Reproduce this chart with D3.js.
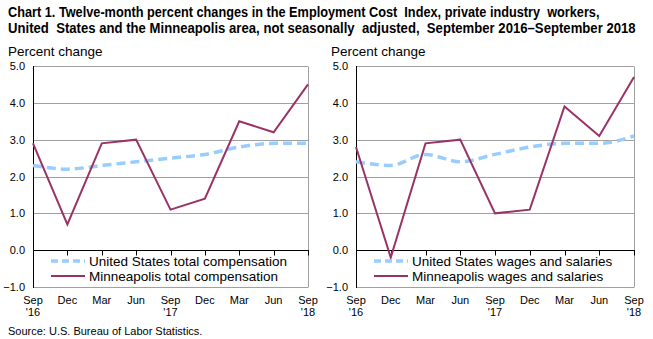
<!DOCTYPE html>
<html>
<head>
<meta charset="utf-8">
<script src="https://cdn.jsdelivr.net/npm/d3@7"></script>
<style>
  body { margin: 0; background: #fff; }
  svg { display: block; font-family: "Liberation Sans", Arial, sans-serif; }
</style>
</head>
<body>
<div id="chart"></div>
<script>
// quarters, Sep 2016 through Sep 2018
const quarters = ["Sep '16", "Dec", "Mar", "Jun", "Sep '17", "Dec", "Mar", "Jun", "Sep '18"];
const yTicks = [-1, 0, 1, 2, 3, 4, 5];

const usTotalComp = [2.3, 2.2, 2.3, 2.4, 2.5, 2.6, 2.8, 2.9, 2.9];
const mplsTotalComp = [2.9, 0.7, 2.9, 3.0, 1.1, 1.4, 3.5, 3.2, 4.5];
const usWages = [2.4, 2.3, 2.6, 2.4, 2.6, 2.8, 2.9, 2.9, 3.1];
const mplsWages = [2.8, -0.2, 2.9, 3.0, 1.0, 1.1, 3.9, 3.1, 4.7];

const titleLines = ["Chart 1. Twelve-month percent changes in the Employment Cost  Index, private industry  workers,",
	"United  States and the Minneapolis area, not seasonally  adjusted,  September 2016\u2013September 2018"];

const width = 653, height = 339;

let svg = d3.select("#chart")
	.append("svg")
		.attr("width", width)
		.attr("height", height);

// title, two lines, squeezed horizontally to a narrow look
const titleWidths = [592, 628];
titleLines.forEach(function(line, i)
{
	let t = svg.append("text")
		.attr("x", 0)
		.attr("y", 0)
		.style("font-weight", "bold")
		.style("font-size", "15.5px")
		.style("white-space", "pre")
		.text(line);
	let w = t.node().getComputedTextLength();
	t.attr("transform", "translate(8," + (16.5 + i * 16) + ") scale(" + (titleWidths[i] / w) + ",1)");
});

svg.append("text")
	.attr("x", 8)
	.attr("y", 335)
	.style("font-size", "11px")
	.text("Source: U.S. Bureau of Labor Statistics.");

function drawPanel(opts)
{
	let g = svg.append("g");

	let x = d3.scalePoint()
		.domain(d3.range(quarters.length))
		.range([opts.left, opts.right]);

	let y = d3.scaleLinear()
		.domain([-1, 5])
		.range([287, 66]);

	g.append("text")
		.attr("x", opts.left - 25)
		.attr("y", 56)
		.style("font-size", "13.5px")
		.text("Percent change");

	// gridlines
	g.selectAll(".grid")
		.data(yTicks.filter(v => v != 0))
		.enter()
		.append("line")
		.attr("x1", opts.left)
		.attr("x2", opts.right)
		.attr("y1", d => Math.round(y(d)) + 0.5)
		.attr("y2", d => Math.round(y(d)) + 0.5)
		.attr("stroke", "#a0a0a0")
		.attr("stroke-width", 1);

	g.append("line")
		.attr("x1", opts.right + 0.5)
		.attr("x2", opts.right + 0.5)
		.attr("y1", Math.round(y(5)) + 0.5)
		.attr("y2", Math.round(y(-1)) + 0.5)
		.attr("stroke", "#a0a0a0");

	// y axis labels
	g.selectAll(".ylab")
		.data(yTicks)
		.enter()
		.append("text")
		.attr("x", opts.left - 8)
		.attr("y", d => y(d) + 4)
		.attr("text-anchor", "end")
		.style("font-size", "11px")
		.text(d => d3.format(".1f")(d));

	// left axis and zero line
	g.append("line")
		.attr("x1", opts.left + 0.5)
		.attr("x2", opts.left + 0.5)
		.attr("y1", Math.round(y(5)))
		.attr("y2", Math.round(y(-1)) + 1)
		.attr("stroke", "#000");

	let zero = Math.round(y(0)) + 0.5;
	g.append("line")
		.attr("x1", opts.left)
		.attr("x2", opts.right + 1)
		.attr("y1", zero)
		.attr("y2", zero)
		.attr("stroke", "#000");

	g.selectAll(".tick")
		.data(d3.range(quarters.length))
		.enter()
		.append("line")
		.attr("x1", d => Math.round(x(d)) + 0.5)
		.attr("x2", d => Math.round(x(d)) + 0.5)
		.attr("y1", zero)
		.attr("y2", zero + 5)
		.attr("stroke", "#000");

	// x labels, year on a second line
	let xl = g.selectAll(".xlab")
		.data(quarters)
		.enter()
		.append("text")
		.attr("text-anchor", "middle")
		.style("font-size", "11px");

	xl.append("tspan")
		.attr("x", (d, i) => x(i))
		.attr("y", 304)
		.text(d => d.split(" ")[0]);

	xl.append("tspan")
		.attr("x", (d, i) => x(i))
		.attr("y", 316)
		.text(d => d.split(" ")[1] || "");

	let lineUS = d3.line()
		.x((d, i) => x(i))
		.y(d => y(d))
		.curve(d3.curveMonotoneX);

	let lineMpls = d3.line()
		.x((d, i) => x(i))
		.y(d => y(d));

	g.append("path")
		.attr("d", lineUS(opts.us))
		.attr("fill", "none")
		.attr("stroke", "#99ccff")
		.attr("stroke-width", 3.5)
		.attr("stroke-dasharray", "9,5");

	g.append("path")
		.attr("d", lineMpls(opts.mpls))
		.attr("fill", "none")
		.attr("stroke", "#993366")
		.attr("stroke-width", 2);

	// legend
	let legend = g.append("g")
		.attr("transform", "translate(" + (opts.left + 18) + ",0)");

	legend.append("line")
		.attr("x1", 0).attr("x2", 34)
		.attr("y1", 261).attr("y2", 261)
		.attr("stroke", "#99ccff")
		.attr("stroke-width", 3.5)
		.attr("stroke-dasharray", "7,4");

	legend.append("line")
		.attr("x1", 0).attr("x2", 34)
		.attr("y1", 276).attr("y2", 276)
		.attr("stroke", "#993366")
		.attr("stroke-width", 2);

	legend.selectAll("text")
		.data(opts.names)
		.enter()
		.append("text")
		.attr("x", 38)
		.attr("y", (d, i) => 265.5 + i * 15.5)
		.style("font-size", "13.5px")
		.text(d => d);
}

drawPanel({
	left: 33, right: 308,
	us: usTotalComp, mpls: mplsTotalComp,
	names: ["United States total compensation", "Minneapolis total compensation"]
});

drawPanel({
	left: 356, right: 634,
	us: usWages, mpls: mplsWages,
	names: ["United States wages and salaries", "Minneapolis wages and salaries"]
});
</script>
</body>
</html>
